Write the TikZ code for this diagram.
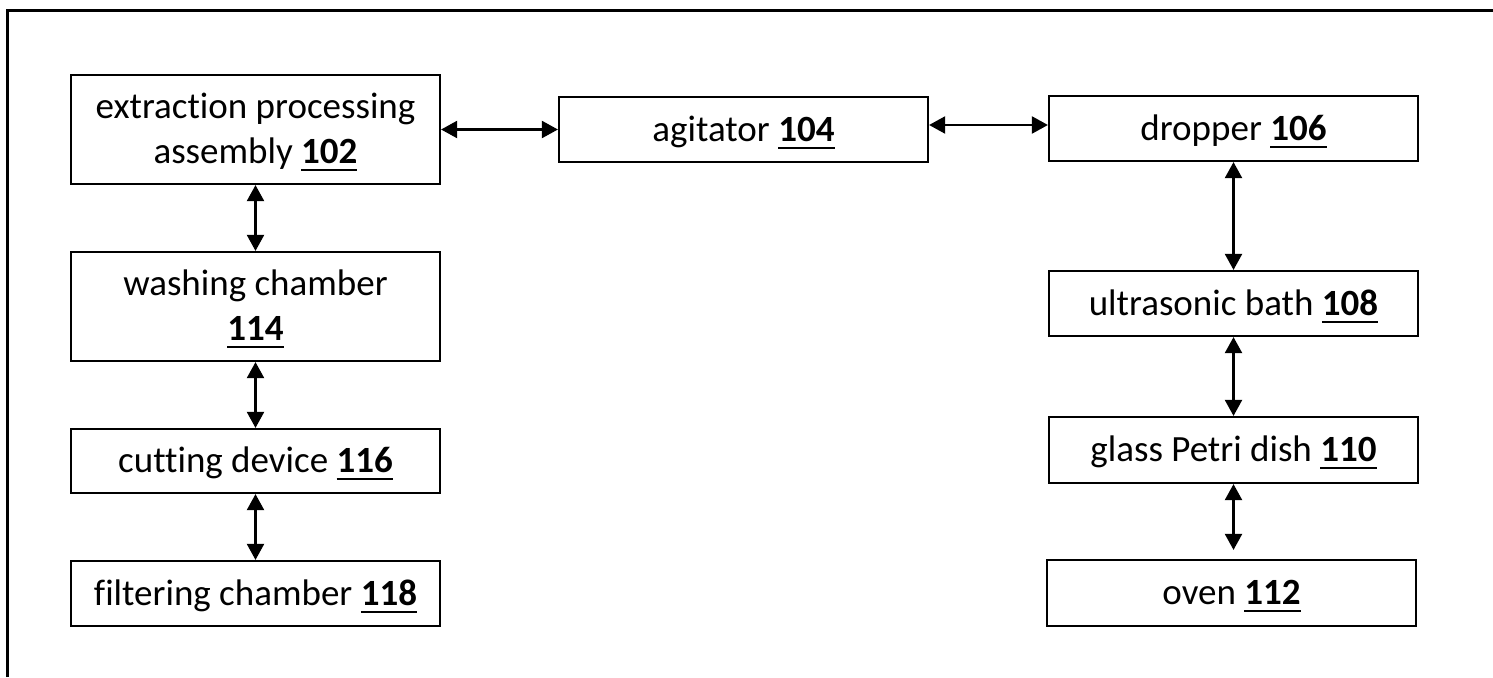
\documentclass[tikz,border=0pt]{standalone}
\usepackage{fontspec}
\setmainfont[Ligatures=NoCommon]{Carlito}
\usetikzlibrary{arrows.meta,calc}
\newsavebox\numbox
\newcommand\refnum[1]{\sbox\numbox{\bfseries #1}\rlap{\rule[-7.6pt]{\wd\numbox}{2pt}}\usebox\numbox}
\begin{document}
\begin{tikzpicture}[x=1pt,y=-1pt,
  box/.style={draw, line width=2.2pt, minimum width=369pt, inner sep=0pt, align=center,
    font=\fontsize{37pt}{45pt}\selectfont, text height=23.4pt, text depth=0pt},
  twoline/.style={text height=68.4pt},
  dar/.style={arrows={Triangle[length=16pt,width=17pt]-Triangle[length=16pt,width=17pt]}, line width=2.2pt}]
\useasboundingbox (0,0) rectangle (1493,677);
\fill[white] (0,0) rectangle (1493,677);
% frame (top and left edges)
\draw[line width=3pt] (7.3,677) -- (7.3,11) -- (1493,11);
% left column
\node[box, minimum height=109pt, twoline] (b102) at (255.5,129.5) {extraction processing\\assembly \refnum{102}};
\node[box, minimum height=109pt, twoline] (b114) at (255.5,306.5) {washing chamber\\\refnum{114}};
\node[box, minimum height=64pt] (b116) at (255.5,461) {cutting device \refnum{116}};
\node[box, minimum height=65pt] (b118) at (255.5,593.5) {filtering chamber \refnum{118}};
% middle
\node[box, minimum height=65pt] (b104) at (743.5,129.5) {agitator \refnum{104}};
% right column
\node[box, minimum height=65pt] (b106) at (1233.5,128.5) {dropper \refnum{106}};
\node[box, minimum height=65pt] (b108) at (1233.5,303.5) {ultrasonic bath \refnum{108}};
\node[box, minimum height=66pt] (b110) at (1233.5,450) {glass Petri dish \refnum{110}};
\node[box, minimum height=66pt] (b112) at (1231.5,593) {oven \refnum{112}};
% connectors
\draw[dar] (b102) -- (b104);
\draw[dar] ([yshift=4.5pt]b104.east) -- ([yshift=3.5pt]b106.west);
\draw[dar] (b102) -- (b114);
\draw[dar] (b114) -- (b116);
\draw[dar] (b116) -- (b118);
\draw[dar] (b106) -- (b108);
\draw[dar] (b108) -- (b110);
\draw[dar] (b110.south) -- ($(b110.south |- b112.north)+(0,-9)$);
\end{tikzpicture}
\end{document}
